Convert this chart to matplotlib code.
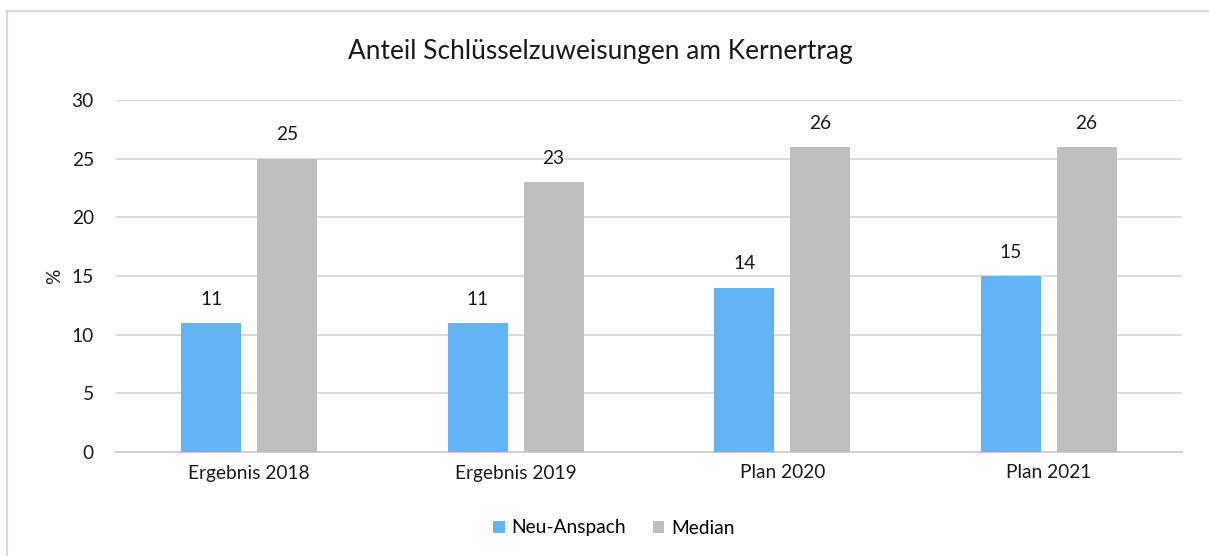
import matplotlib
matplotlib.use("Agg")
import matplotlib.pyplot as plt
import numpy as np
from matplotlib.lines import Line2D

categories = ["Ergebnis 2018", "Ergebnis 2019", "Plan 2020", "Plan 2021"]
neu_anspach = [11, 11, 14, 15]
median = [25, 23, 26, 26]
series_names = ["Neu-Anspach", "Median"]
colors = ["#63B4F4", "#BFBFBF"]
yticks = [0, 5, 10, 15, 20, 25, 30]

plt.rcParams['font.family'] = ['Lato', 'DejaVu Sans']
W, H = 1209, 556
fig = plt.figure(figsize=(W/100, H/100), dpi=100)
ax = fig.add_axes([116/W, 1-452/H, (1182-116)/W, (452-100)/H])

FS = 13.8
x = np.arange(len(categories))
bw = 0.225
off = 0.142
for vals, name, c, o in zip([neu_anspach, median], series_names, colors, [-off, off]):
    bars = ax.bar(x + o, vals, bw, color=c, label=name, zorder=3)
    for b, v in zip(bars, vals):
        ax.annotate(f"{v}", (b.get_x()+b.get_width()/2, v), xytext=(0, 11),
                    textcoords="offset points", ha="center", va="bottom", fontsize=FS, color="#1a1a1a")

ax.set_xlim(-0.5, len(categories)-0.5)
ax.set_ylim(0, 30)
ax.set_yticks(yticks)
ax.set_xticks(x)
ax.set_xticklabels(categories)
ax.grid(axis='y', color="#D9D9D9", linewidth=1.3, zorder=0)
for s in ['top', 'right', 'left']:
    ax.spines[s].set_visible(False)
ax.spines['bottom'].set_color("#D0D0D0")
ax.spines['bottom'].set_linewidth(1.5)
ax.tick_params(axis='both', length=0, labelsize=FS, colors="#1a1a1a")
ax.tick_params(axis='y', pad=16)
ax.tick_params(axis='x', pad=9)
ax.set_ylabel("%", fontsize=FS, color="#1a1a1a", labelpad=6)

fig.text(600/W, 1-52/H, "Anteil Schlüsselzuweisungen am Kernertrag", ha="center", va="center",
         fontsize=18.9, color="#1a1a1a")

leg = fig.legend(loc="center", bbox_to_anchor=(614/W, 1-528/H), ncol=2, frameon=False,
                 fontsize=FS, handlelength=0.6, handleheight=0.6, handletextpad=0.35,
                 columnspacing=1.4)

fig.add_artist(Line2D([6.5/W, 6.5/W], [0, 1-11/H], transform=fig.transFigure, color="#D9D9D9", lw=1.5))
fig.add_artist(Line2D([6.5/W, 1], [1-11/H, 1-11/H], transform=fig.transFigure, color="#D9D9D9", lw=1.5))

fig.savefig("out.png", dpi=100, facecolor="white")
